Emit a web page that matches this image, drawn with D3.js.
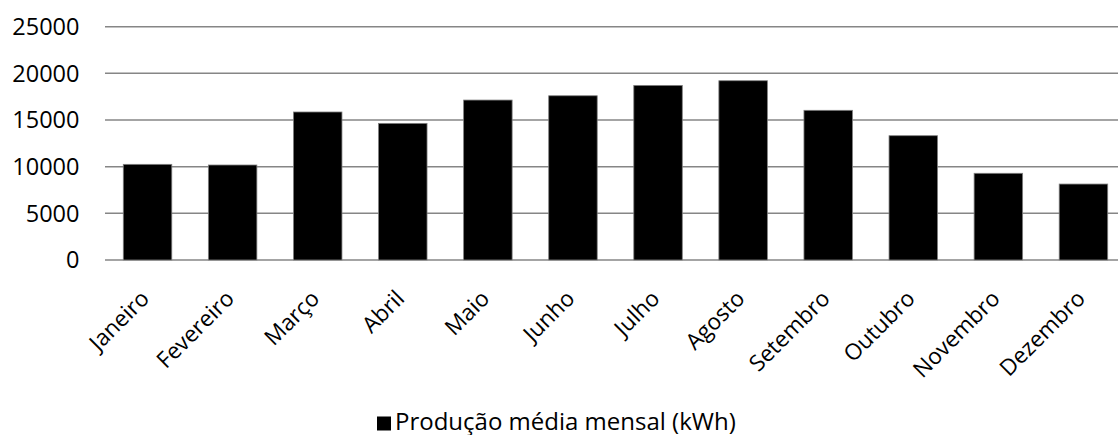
<!DOCTYPE html>
<html><head><meta charset="utf-8">
<script src="https://cdn.jsdelivr.net/npm/d3@7/dist/d3.min.js"></script>
<style>body{margin:0;background:#fff;} svg{display:block;font-family:"Open Sans",Lato,sans-serif;}</style>
</head><body>
<svg id="c" width="1118" height="435"></svg>
<script>
const categories = ["Janeiro","Fevereiro","Março","Abril","Maio","Junho","Julho","Agosto","Setembro","Outubro","Novembro","Dezembro"];
const values = [10250,10180,15860,14640,17140,17600,18710,19210,16040,13320,9290,8140];
const yTicks = [0,5000,10000,15000,20000,25000];
const seriesName = "Produção média mensal (kWh)";

const svg = d3.select("#c");
const x = d3.scaleBand().domain(categories).range([105, 1126]).paddingInner(0.43).paddingOuter(0.215);
const y = d3.scaleLinear().domain([0,25000]).range([260, 26.7]);

// gridlines
svg.append("g").selectAll("line").data(yTicks).join("line")
  .attr("x1",105).attr("x2",1126)
  .attr("y1",d=>y(d)).attr("y2",d=>y(d))
  .attr("stroke","#868686").attr("stroke-width",1.5);

// y labels
svg.append("g").selectAll("text").data(yTicks).join("text")
  .attr("x",79.5).attr("y",d=>y(d)).attr("dy","0.36em")
  .attr("text-anchor","end").attr("font-size",23.5).attr("fill","#000")
  .text(d=>d);

// bars
svg.append("g").selectAll("rect").data(values).join("rect")
  .attr("x",(d,i)=>x(categories[i])).attr("width",x.bandwidth())
  .attr("y",d=>y(d)).attr("height",d=>y(0)-y(d))
  .attr("fill","#000").attr("stroke","#7f7f7f").attr("stroke-width",0.8);

// x labels
svg.append("g").selectAll("text").data(categories).join("text")
  .attr("transform",d=>`translate(${x(d)+x.bandwidth()/2+3},${300}) rotate(-45)`)
  .attr("text-anchor","end").attr("font-size",22.5).attr("fill","#000")
  .text(d=>d);

// legend
const lg = svg.append("g");
lg.append("rect").attr("x",377).attr("y",416.5).attr("width",14).attr("height",14).attr("fill","#000");
lg.append("text").attr("x",395).attr("y",429.5).attr("font-size",24).attr("fill","#000").text(seriesName);
</script>
</body></html>
